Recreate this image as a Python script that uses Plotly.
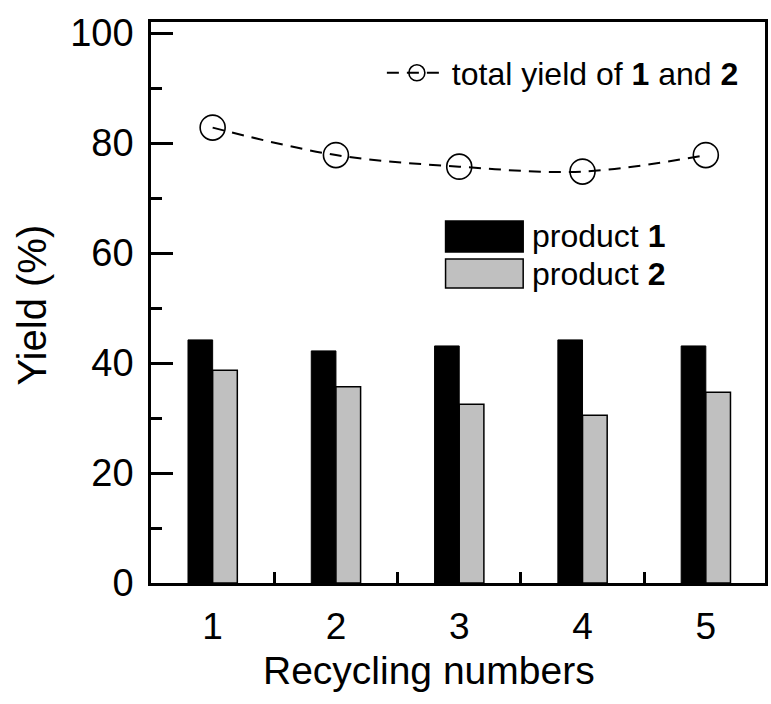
import plotly.graph_objects as go

cycles = [1, 2, 3, 4, 5]
product1 = [44.2, 42.2, 43.1, 44.2, 43.1]
product2 = [38.7, 35.7, 32.5, 30.5, 34.7]
total_yield = [82.8, 77.8, 75.7, 74.8, 77.8]
x_tick_labels = ["1", "2", "3", "4", "5"]
y_tick_vals = [0, 20, 40, 60, 80, 100]

W, H = 771, 704
L, R, T, B = 151, 768, 22, 583
PW, PH = R - L, B - T

def px(x):
    return (x - L) / PW

def py(y):
    return (B - y) / PH

FONT = "Liberation Sans, Arial, sans-serif"

fig = go.Figure()
fig.add_trace(go.Bar(x=cycles, y=product1, name="product <b>1</b>",
                     marker=dict(color="#000000", line=dict(color="#000000", width=1)),
                     showlegend=False))
fig.add_trace(go.Bar(x=cycles, y=product2, name="product <b>2</b>",
                     marker=dict(color="#c0c0c0", line=dict(color="#000000", width=1.5)),
                     showlegend=False))
fig.add_trace(go.Scatter(x=cycles, y=total_yield, name="total yield of <b>1</b> and <b>2</b>",
                         mode="lines+markers",
                         line=dict(color="#000000", width=2, dash="12px,8px", shape="spline"),
                         marker=dict(symbol="circle-open", size=25, color="#000000",
                                     line=dict(width=1.6, color="#000000")),
                         showlegend=True))

fig.update_layout(
    width=W, height=H,
    margin=dict(l=L, r=W - R, t=T, b=H - B),
    paper_bgcolor="white", plot_bgcolor="white",
    barmode="group", bargap=0.6, bargroupgap=0,
    font=dict(family=FONT, color="#000000", size=36),
    legend=dict(x=px(383), y=py(73), xanchor="left", yanchor="middle",
                font=dict(size=32, family=FONT), bgcolor="rgba(0,0,0,0)",
                itemwidth=60),
)

fig.update_xaxes(
    range=[0.5, 5.48], tickmode="array", tickvals=cycles, ticktext=x_tick_labels,
    ticks="", showline=True, linecolor="#000000", linewidth=2.5, mirror=True,
    showgrid=False, zeroline=False, tickfont=dict(size=37), ticklabelstandoff=9,
    minor=dict(tickmode="array", tickvals=[1.5, 2.5, 3.5, 4.5], ticks="inside",
               ticklen=11, tickwidth=2.5, tickcolor="#000000"),
)
fig.update_yaxes(
    range=[0, 102], tickmode="array", tickvals=y_tick_vals,
    ticks="inside", ticklen=22, tickwidth=2.5, tickcolor="#000000",
    showline=True, linecolor="#000000", linewidth=2.5, mirror=True,
    showgrid=False, zeroline=False, tickfont=dict(size=38), ticklabelstandoff=7,
    minor=dict(dtick=10, ticks="inside", ticklen=11, tickwidth=2.5, tickcolor="#000000"),
)

# axis titles
fig.add_annotation(text="Recycling numbers", xref="paper", yref="paper",
                   x=px(430), y=py(670), xanchor="center", yanchor="middle",
                   showarrow=False, font=dict(size=39, family=FONT))
fig.add_annotation(text="Yield (%)", xref="paper", yref="paper",
                   x=px(31), y=py(305), xanchor="center", yanchor="middle", textangle=-90,
                   showarrow=False, font=dict(size=40, family=FONT))

# bar legend keys
bar_keys = [("#000000", 221, 252, "product <b>1</b>"), ("#c0c0c0", 259, 288, "product <b>2</b>")]
for color, y0, y1, label in bar_keys:
    fig.add_shape(type="rect", xref="paper", yref="paper",
                  x0=px(447), x1=px(525), y0=py(y1), y1=py(y0),
                  fillcolor=color, line=dict(color="#000000", width=1.5))
    fig.add_annotation(text=label, xref="paper", yref="paper",
                       x=px(532), y=py((y0 + y1) / 2), xanchor="left", yanchor="middle",
                       showarrow=False, font=dict(size=32, family=FONT))

fig.write_html("out.html")
